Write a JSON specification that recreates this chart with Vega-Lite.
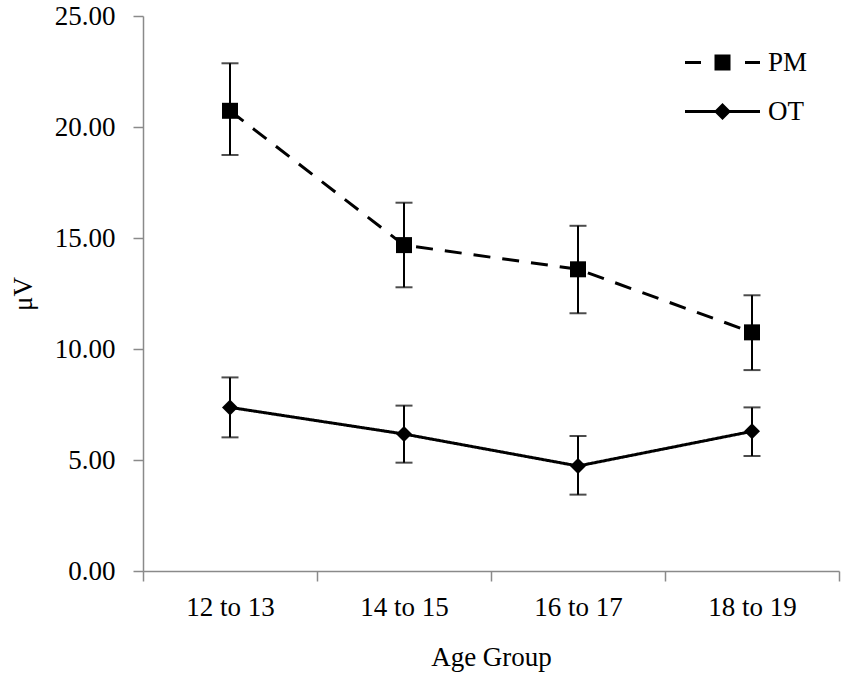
{
  "$schema": "https://vega.github.io/schema/vega-lite/v6.json",
  "width": 696,
  "height": 555,
  "autosize": {"type": "none"},
  "padding": {"left": 143, "top": 16, "right": 11, "bottom": 108},
  "background": "white",
  "config": {
    "view": {"stroke": null},
    "font": "Liberation Serif",
    "axis": {
      "domainColor": "#8a8a8a",
      "domainWidth": 1.5,
      "tickColor": "#8a8a8a",
      "tickWidth": 1.5,
      "tickSize": 10,
      "labelColor": "black",
      "labelFont": "Liberation Serif",
      "labelFontSize": 27,
      "titleFont": "Liberation Serif",
      "titleFontSize": 27,
      "titleFontWeight": "normal",
      "titleColor": "black",
      "grid": false
    },
    "legend": {
      "labelFont": "Liberation Serif",
      "labelFontSize": 27,
      "labelColor": "black"
    }
  },
  "data": {
    "values": [
      {"group": "12 to 13", "series": "PM", "mean": 20.73, "lo": 18.74, "hi": 22.87},
      {"group": "14 to 15", "series": "PM", "mean": 14.68, "lo": 12.78, "hi": 16.59},
      {"group": "16 to 17", "series": "PM", "mean": 13.59, "lo": 11.61, "hi": 15.55},
      {"group": "18 to 19", "series": "PM", "mean": 10.75, "lo": 9.05, "hi": 12.42},
      {"group": "12 to 13", "series": "OT", "mean": 7.37, "lo": 6.02, "hi": 8.72},
      {"group": "14 to 15", "series": "OT", "mean": 6.17, "lo": 4.88, "hi": 7.45},
      {"group": "16 to 17", "series": "OT", "mean": 4.73, "lo": 3.44, "hi": 6.08},
      {"group": "18 to 19", "series": "OT", "mean": 6.29, "lo": 5.18, "hi": 7.37}
    ]
  },
  "encoding": {
    "x": {
      "field": "group",
      "type": "nominal",
      "sort": ["12 to 13", "14 to 15", "16 to 17", "18 to 19"],
      "scale": {"type": "band", "paddingInner": 0, "paddingOuter": 0},
      "axis": {
        "title": "Age Group",
        "labelAngle": 0,
        "tickBand": "extent",
        "labelPadding": 13,
        "titlePadding": 24
      }
    }
  },
  "resolve": {"scale": {"shape": "independent"}, "legend": {"shape": "independent"}},
  "layer": [
    {
      "mark": {"type": "rule", "color": "black", "strokeWidth": 2},
      "encoding": {
        "y": {
          "field": "lo",
          "type": "quantitative",
          "scale": {"domain": [0, 25], "nice": false},
          "axis": {
            "title": "μV",
            "values": [0, 5, 10, 15, 20, 25],
            "format": ".2f",
            "labelPadding": 18,
            "titlePadding": 17
          }
        },
        "y2": {"field": "hi"}
      }
    },
    {
      "mark": {"type": "tick", "color": "black", "size": 17, "thickness": 2},
      "encoding": {"y": {"field": "lo", "type": "quantitative"}}
    },
    {
      "mark": {"type": "tick", "color": "black", "size": 17, "thickness": 2},
      "encoding": {"y": {"field": "hi", "type": "quantitative"}}
    },
    {
      "mark": {"type": "line", "color": "black", "strokeWidth": 3},
      "encoding": {
        "y": {"field": "mean", "type": "quantitative"},
        "strokeDash": {
          "field": "series",
          "type": "nominal",
          "scale": {"domain": ["PM", "OT"], "range": [[17, 12], [1, 0]]},
          "legend": null
        }
      }
    },
    {
      "mark": {"type": "point", "filled": true, "color": "black", "size": 256, "opacity": 1},
      "encoding": {
        "y": {"field": "mean", "type": "quantitative"},
        "shape": {
          "field": "series",
          "type": "nominal",
          "scale": {"domain": ["PM", "OT"], "range": ["square", "diamond"]},
          "legend": null
        }
      }
    },
    {
      "transform": [{"filter": "false"}],
      "mark": {"type": "point", "filled": true, "color": "black", "size": 400, "opacity": 1, "strokeWidth": 0},
      "encoding": {
        "y": {"field": "mean", "type": "quantitative"},
        "shape": {
          "field": "series",
          "type": "nominal",
          "scale": {
            "domain": ["PM", "OT"],
            "range": [
              "M-3.75,-0.15H-2.15V0.15H-3.75Z M-0.8,-0.8H0.8V0.8H-0.8Z M2.25,-0.15H3.75V0.15H2.25Z",
              "M-3.75,-0.15H3.75V0.15H-3.75Z M0,-0.85L0.85,0L0,0.85L-0.85,0Z"
            ]
          },
          "legend": {
            "title": null,
            "orient": "none",
            "legendX": 566,
            "legendY": 33,
            "padding": 0,
            "symbolSize": 400,
            "symbolFillColor": "black",
            "symbolStrokeWidth": 0,
            "symbolOpacity": 1,
            "labelOffset": 32,
            "rowPadding": 21
          }
        }
      }
    }
  ]
}
